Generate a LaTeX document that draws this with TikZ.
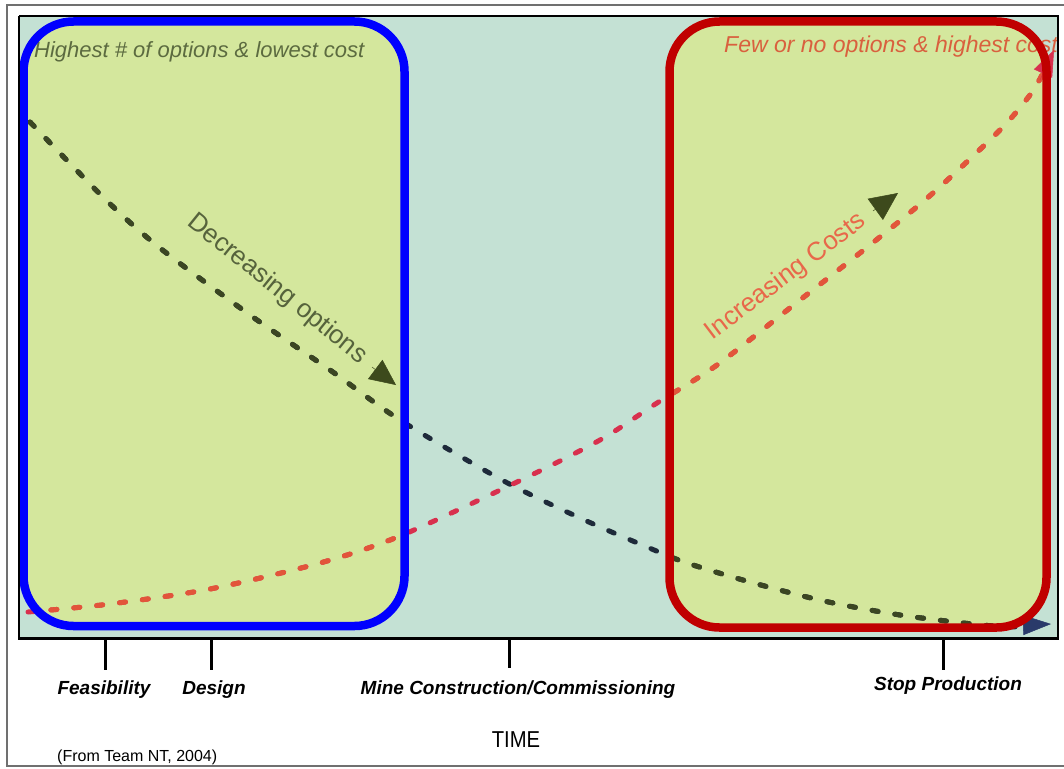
\documentclass[tikz,border=0pt]{standalone}
\usepackage{fontspec}
\setmainfont{Liberation Sans}
\usetikzlibrary{arrows.meta}
\definecolor{plotbg}{HTML}{C4E1D4}
\definecolor{boxfill}{HTML}{D4E79D}
\definecolor{bluebox}{HTML}{0000FF}
\definecolor{redbox}{HTML}{C00000}
\definecolor{optgreen}{HTML}{3B4622}
\definecolor{optnavy}{HTML}{1E2A3A}
\definecolor{costorange}{HTML}{E2553A}
\definecolor{costcrimson}{HTML}{D8304E}
\definecolor{hitext}{HTML}{5C6B40}
\definecolor{fewtext}{HTML}{D9603E}
\definecolor{dectext}{HTML}{56633C}
\definecolor{inctext}{HTML}{E8684A}
\definecolor{headolive}{HTML}{3D4A1C}
\definecolor{headblue}{HTML}{2A3A6A}
\definecolor{framegray}{HTML}{707070}
\tikzset{
  curve/.style={line width=5pt, line cap=round, dash pattern=on 6pt off 17pt},
  boxline/.style={line width=8.5pt, rounded corners=50pt},
  toptxt/.style={font=\itshape\fontsize{22}{22}\selectfont, inner sep=0pt},
  ticklab/.style={font=\bfseries\itshape\fontsize{19}{19}\selectfont, inner sep=0pt},
  tickline/.style={line width=3pt, black},
  slanttxt/.style={font=\fontsize{26}{26}\selectfont, inner sep=0pt}
}
\begin{document}
\begin{tikzpicture}[x=1pt,y=-1pt]
\useasboundingbox (0,0) rectangle (1064,768);
\fill[white] (0,0) rectangle (1064,768);
% outer frame
\draw[framegray, line width=2pt] (7,5) rectangle (1068,766);
% plot area
\fill[plotbg] (19,16) rectangle (1058,638);
% green boxes fill
\fill[boxfill, rounded corners=50pt] (23.5,21.5) rectangle (404.5,626);
\fill[boxfill, rounded corners=50pt] (669.5,21.5) rectangle (1046.5,627.5);
% top texts
\node[toptxt, text=hitext, anchor=west] (hi) at (34,52) {Highest \# of options \& lowest cost};
\node[toptxt, text=fewtext, anchor=west, font=\itshape\fontsize{23}{23}\selectfont] (few) at (724,47) {Few or no options \& highest cost};
% options curve (navy in the middle, olive in the boxes)
\draw[curve, optnavy] plot[smooth] coordinates {(30,122) (106,200) (160,248) (250,315) (330,370) (400,420) (502,480) (580,518) (647,547) (687,563) (750,582) (824,601) (900,615) (982,625) (1020,627)};
\begin{scope}
\clip[rounded corners=50pt] (23.5,21.5) rectangle (404.5,626);
\draw[curve, optgreen] plot[smooth] coordinates {(30,122) (106,200) (160,248) (250,315) (330,370) (400,420) (502,480) (580,518) (647,547) (687,563) (750,582) (824,601) (900,615) (982,625) (1020,627)};
\end{scope}
\begin{scope}
\clip[rounded corners=50pt] (669.5,21.5) rectangle (1046.5,627.5);
\draw[curve, optgreen] plot[smooth] coordinates {(30,122) (106,200) (160,248) (250,315) (330,370) (400,420) (502,480) (580,518) (647,547) (687,563) (750,582) (824,601) (900,615) (982,625) (1020,627)};
\end{scope}
% costs curve
\draw[curve, costcrimson] plot[smooth] coordinates {(28,612) (110,604) (210,589) (320,563) (400,536) (517,482) (600,440) (657,403) (717,365) (800,300) (870,245) (933,193) (1000,130) (1030,95) (1042,75)};
\begin{scope}
\clip[rounded corners=50pt] (23.5,21.5) rectangle (404.5,626);
\draw[curve, costorange] plot[smooth] coordinates {(28,612) (110,604) (210,589) (320,563) (400,536) (517,482) (600,440) (657,403) (717,365) (800,300) (870,245) (933,193) (1000,130) (1030,95) (1042,75)};
\end{scope}
\begin{scope}
\clip[rounded corners=50pt] (669.5,21.5) rectangle (1046.5,627.5);
\draw[curve, costorange] plot[smooth] coordinates {(28,612) (110,604) (210,589) (320,563) (400,536) (517,482) (600,440) (657,403) (717,365) (800,300) (870,245) (933,193) (1000,130) (1030,95) (1042,75)};
\end{scope}
% curve end arrowheads
\coordinate (optA) at (1024,625);
\coordinate (optB) at (1051,624);
\draw[headblue, line width=0.5pt, -{Triangle[length=28pt,width=20pt]}] (optA) -- (optB);
\coordinate (costA) at (1040,80);
\coordinate (costB) at (1054,50);
\draw[costcrimson, line width=0.5pt, -{Triangle[length=26pt,width=20pt]}] (costA) -- (costB);
% slanted labels with arrowheads
\node[slanttxt, text=dectext, rotate=-39] (dec) at (277,289) {Decreasing options};
\coordinate (decA) at (372,367);
\coordinate (decB) at (396,385);
\draw[headolive, line width=0.5pt, -{Triangle[length=26pt,width=24pt]}] (decA) -- (decB);
\node[slanttxt, text=inctext, rotate=37] (inc) at (786,277) {Increasing Costs};
\coordinate (incA) at (873,211);
\coordinate (incB) at (898,193);
\draw[headolive, line width=0.5pt, -{Triangle[length=28pt,width=26pt]}] (incA) -- (incB);
% box outlines
\draw[boxline, bluebox] (23.5,21.5) rectangle (404.5,626);
\draw[boxline, redbox] (669.5,21.5) rectangle (1046.5,627.5);
% plot border
\draw[black, line width=2pt] (19,16) -- (1058,16) -- (1058,638);
\draw[black, line width=1.5pt] (19,16) -- (19,638);
\draw[black, line width=3pt] (18,638) -- (1059,638);
% ticks
\coordinate (t1) at (105,638); \coordinate (t1e) at (105,670);
\coordinate (t2) at (211,638); \coordinate (t2e) at (211,670);
\coordinate (t3) at (509,638); \coordinate (t3e) at (509,668);
\coordinate (t4) at (943,638); \coordinate (t4e) at (943,670);
\draw[tickline] (t1) -- (t1e);
\draw[tickline] (t2) -- (t2e);
\draw[tickline] (t3) -- (t3e);
\draw[tickline] (t4) -- (t4e);
\node[ticklab] (feas) at (104,690) {Feasibility};
\node[ticklab] (des) at (214,690) {Design};
\node[ticklab] (mine) at (518,690) {Mine Construction/Commissioning};
\node[ticklab] (stop) at (948,686) {Stop Production};
\node[font=\fontsize{23}{23}\selectfont, xscale=0.88, inner sep=0pt] (time) at (516,740) {TIME};
\node[font=\fontsize{16}{16}\selectfont, inner sep=0pt, anchor=west] (src) at (57,757) {(From Team NT, 2004)};
\end{tikzpicture}
\end{document}
